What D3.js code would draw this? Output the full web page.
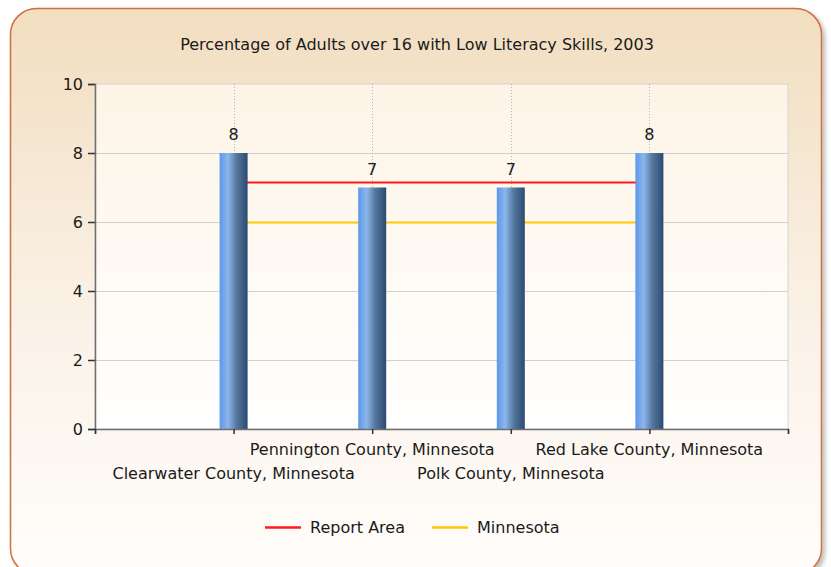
<!DOCTYPE html>
<html>
  <head>
    <title>Low Literacy Skills, 2003</title>
    <script src="https://d3js.org/d3.v7.min.js"></script>
    <style>
      body { margin: 0; background: #fff; }
      text { font-family: "DejaVu Sans", sans-serif; fill: #1a1a1a; }
    </style>
  </head>
  <body>
    <div id="chart"></div>
    <script>
      // Data
      var counties = ["Clearwater County, Minnesota", "Pennington County, Minnesota",
                      "Polk County, Minnesota", "Red Lake County, Minnesota"];
      var values = [8, 7, 7, 8];
      var reportArea = 7.15;
      var minnesota = 6;
      var yTicks = [0, 2, 4, 6, 8, 10];
      var seriesNames = ["Report Area", "Minnesota"];
      var seriesColors = ["#ff1a1a", "#ffc800"];

      var width = 831, height = 567;
      var svg = d3.select("#chart").append("svg")
        .attr("width", width)
        .attr("height", height);

      var defs = svg.append("defs");

      // panel background
      var bg = defs.append("linearGradient").attr("id", "bg")
        .attr("x1", 0).attr("y1", 0).attr("x2", 0).attr("y2", 1);
      bg.append("stop").attr("offset", "0%").attr("stop-color", "#f2dec0");
      bg.append("stop").attr("offset", "60%").attr("stop-color", "#fbf3ea");
      bg.append("stop").attr("offset", "100%").attr("stop-color", "#fffdfb");

      var plotBg = defs.append("linearGradient").attr("id", "plotbg")
        .attr("x1", 0).attr("y1", 0).attr("x2", 0).attr("y2", 1);
      plotBg.append("stop").attr("offset", "0%").attr("stop-color", "#fdf4e6");
      plotBg.append("stop").attr("offset", "100%").attr("stop-color", "#ffffff");

      var barGrad = defs.append("linearGradient").attr("id", "bar")
        .attr("x1", 0).attr("y1", 0).attr("x2", 1).attr("y2", 0);
      barGrad.append("stop").attr("offset", "0%").attr("stop-color", "#5a98ec");
      barGrad.append("stop").attr("offset", "30%").attr("stop-color", "#8db6ea");
      barGrad.append("stop").attr("offset", "60%").attr("stop-color", "#55789f");
      barGrad.append("stop").attr("offset", "100%").attr("stop-color", "#2c4a72");

      var shadow = defs.append("filter").attr("id", "shadow")
        .attr("x", "-5%").attr("y", "-5%").attr("width", "110%").attr("height", "110%");
      shadow.append("feDropShadow").attr("dx", 3).attr("dy", 3)
        .attr("stdDeviation", 2).attr("flood-color", "#000").attr("flood-opacity", 0.25);

      svg.append("rect")
        .attr("x", 10.5).attr("y", 8.5)
        .attr("width", 811).attr("height", 566)
        .attr("rx", 26)
        .attr("fill", "url(#bg)")
        .attr("stroke", "#cd6f3c")
        .attr("stroke-width", 1.5)
        .attr("filter", "url(#shadow)");

      // Title
      svg.append("text")
        .attr("x", 417).attr("y", 50)
        .attr("text-anchor", "middle")
        .style("font-size", "16px")
        .text("Percentage of Adults over 16 with Low Literacy Skills, 2003");

      var plotLeft = 95, plotRight = 788, plotTop = 84, plotBottom = 429;

      var x = d3.scaleLinear().domain([0, counties.length + 1]).range([plotLeft, plotRight]);
      var y = d3.scaleLinear().domain([0, 10]).range([plotBottom, plotTop]);

      svg.append("rect")
        .attr("x", plotLeft).attr("y", plotTop)
        .attr("width", plotRight - plotLeft).attr("height", plotBottom - plotTop)
        .attr("fill", "url(#plotbg)")
        .attr("stroke", "#d4d4d4");

      // horizontal gridlines
      svg.append("g").selectAll("line")
        .data(yTicks.slice(1, -1))
        .enter().append("line")
        .attr("x1", plotLeft).attr("x2", plotRight)
        .attr("y1", function(d) { return Math.round(y(d)) + 0.5; })
        .attr("y2", function(d) { return Math.round(y(d)) + 0.5; })
        .attr("stroke", "#d0d0d0");

      // vertical dotted gridlines
      svg.append("g").selectAll("line")
        .data(counties)
        .enter().append("line")
        .attr("x1", function(d, i) { return Math.round(x(i + 1)) + 0.5; })
        .attr("x2", function(d, i) { return Math.round(x(i + 1)) + 0.5; })
        .attr("y1", plotTop).attr("y2", plotBottom)
        .attr("stroke", "#b4b4b4")
        .attr("stroke-dasharray", "1,2");

      // reference lines
      [reportArea, minnesota].forEach(function(v, k) {
        svg.append("line")
          .attr("x1", x(1)).attr("x2", x(counties.length))
          .attr("y1", Math.round(y(v)) + 0.5).attr("y2", Math.round(y(v)) + 0.5)
          .attr("stroke", seriesColors[k])
          .attr("stroke-width", 2);
      });

      // bars
      var barW = 28;
      svg.append("g").selectAll("rect")
        .data(values)
        .enter().append("rect")
        .attr("x", function(d, i) { return x(i + 1) - barW / 2; })
        .attr("y", function(d) { return y(d); })
        .attr("width", barW)
        .attr("height", function(d) { return y(0) - y(d); })
        .attr("fill", "url(#bar)");

      svg.append("g").selectAll("text")
        .data(values)
        .enter().append("text")
        .attr("x", function(d, i) { return x(i + 1); })
        .attr("y", function(d) { return y(d) - 13; })
        .attr("text-anchor", "middle")
        .style("font-size", "16px")
        .text(function(d) { return d; });

      // axes
      var yAxis = svg.append("g")
        .attr("transform", "translate(" + plotLeft + ",0)")
        .call(d3.axisLeft(y).tickValues(yTicks).tickSize(7).tickPadding(5));
      yAxis.selectAll("text").style("font-size", "16px").attr("fill", "#1a1a1a");

      var xAxis = svg.append("g")
        .attr("transform", "translate(0," + plotBottom + ")")
        .call(d3.axisBottom(x).ticks(counties.length + 1).tickSize(5).tickFormat(""));
      xAxis.selectAll("text").remove();

      [yAxis, xAxis].forEach(function(a) {
        a.select(".domain").attr("stroke", "#6e6e6e").attr("stroke-width", 1.5);
        a.selectAll(".tick line").attr("stroke", "#333").attr("stroke-width", 1.5);
      });

      // staggered category labels
      svg.append("g").selectAll("text")
        .data(counties)
        .enter().append("text")
        .attr("x", function(d, i) { return x(i + 1); })
        .attr("y", function(d, i) { return i % 2 === 0 ? 479 : 455; })
        .attr("text-anchor", "middle")
        .style("font-size", "16px")
        .text(function(d) { return d; });

      // legend
      var legend = svg.append("g");
      var legendX = [265, 432];
      seriesNames.forEach(function(name, k) {
        legend.append("line")
          .attr("x1", legendX[k]).attr("x2", legendX[k] + 36)
          .attr("y1", 527.5).attr("y2", 527.5)
          .attr("stroke", seriesColors[k]).attr("stroke-width", 2.5);
        legend.append("text")
          .attr("x", legendX[k] + 45).attr("y", 533)
          .style("font-size", "16px")
          .text(name);
      });
    </script>
  </body>
</html>
